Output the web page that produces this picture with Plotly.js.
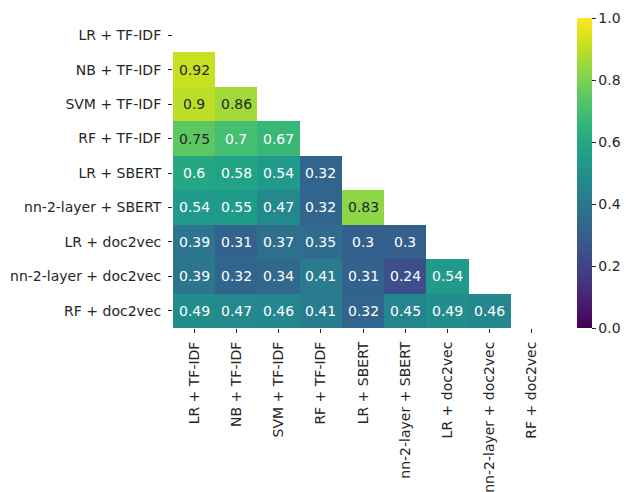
<!DOCTYPE html>
<html>
<head>
<meta charset="utf-8">
<script src="https://cdn.plot.ly/plotly-3.0.1.min.js"></script>
<style>html,body{margin:0;padding:0;background:#fff;}#chart{width:626px;height:492px;}</style>
</head>
<body>
<div id="chart"></div>
<script>
const labels = ["LR + TF-IDF", "NB + TF-IDF", "SVM + TF-IDF", "RF + TF-IDF", "LR + SBERT",
  "nn-2-layer + SBERT", "LR + doc2vec", "nn-2-layer + doc2vec", "RF + doc2vec"];

// lower triangle values, row by row (row i has i values)
const row0 = [];
const row1 = [0.92];
const row2 = [0.9, 0.86];
const row3 = [0.75, 0.7, 0.67];
const row4 = [0.6, 0.58, 0.54, 0.32];
const row5 = [0.54, 0.55, 0.47, 0.32, 0.83];
const row6 = [0.39, 0.31, 0.37, 0.35, 0.3, 0.3];
const row7 = [0.39, 0.32, 0.34, 0.41, 0.31, 0.24, 0.54];
const row8 = [0.49, 0.47, 0.46, 0.41, 0.32, 0.45, 0.49, 0.46];

const colorTicks = [0, 0.2, 0.4, 0.6, 0.8, 1.0];

const rows = [row0, row1, row2, row3, row4, row5, row6, row7, row8];
const n = labels.length;
const z = rows.map(r => { const a = []; for (let j = 0; j < n; j++) a.push(j < r.length ? r[j] : null); return a; });

const annotations = [];
rows.forEach((r, i) => r.forEach((v, j) => {
  annotations.push({
    x: labels[j], y: labels[i], xref: 'x', yref: 'y', text: String(v), showarrow: false,
    font: {family: 'DejaVu Sans', size: 14, color: v >= 0.72 ? '#262626' : '#ffffff'}
  });
}));

const trace = {
  type: 'heatmap', x: labels, y: labels, z: z,
  colorscale: 'Viridis', zmin: 0, zmax: 1, hoverongaps: false,
  colorbar: {
    x: 1.063, xanchor: 'left', xref: 'paper', y: 0.5, yanchor: 'middle', len: 1, lenmode: 'fraction',
    thickness: 15, thicknessmode: 'pixels', xpad: 0, ypad: 0, outlinewidth: 0,
    tickvals: colorTicks, ticktext: colorTicks.map(t => t.toFixed(1)),
    ticks: 'outside', ticklen: 4, tickwidth: 1, tickcolor: '#262626',
    tickfont: {family: 'DejaVu Sans', size: 14, color: '#262626'}
  }
};

const layout = {
  width: 626, height: 492,
  margin: {l: 172.5, r: 73, t: 18, b: 164, pad: 0, autoexpand: false},
  paper_bgcolor: '#fff', plot_bgcolor: '#fff',
  font: {family: 'DejaVu Sans', size: 14, color: '#262626'},
  xaxis: {type: 'category', range: [-0.5, 8.5], showgrid: false, zeroline: false, showline: false,
    ticks: 'outside', ticklen: 4, tickwidth: 1, tickcolor: '#262626', tickangle: -90, ticklabelstandoff: 3,
    tickfont: {family: 'DejaVu Sans', size: 14, color: '#262626'}},
  yaxis: {type: 'category', range: [8.5, -0.5], showgrid: false, zeroline: false, showline: false,
    ticks: 'outside', ticklen: 4, tickwidth: 1, tickcolor: '#262626', ticklabelstandoff: 4,
    tickfont: {family: 'DejaVu Sans', size: 14, color: '#262626'}},
  annotations: annotations
};

Plotly.newPlot('chart', [trace], layout, {displayModeBar: false, staticPlot: true});
</script>
</body>
</html>
